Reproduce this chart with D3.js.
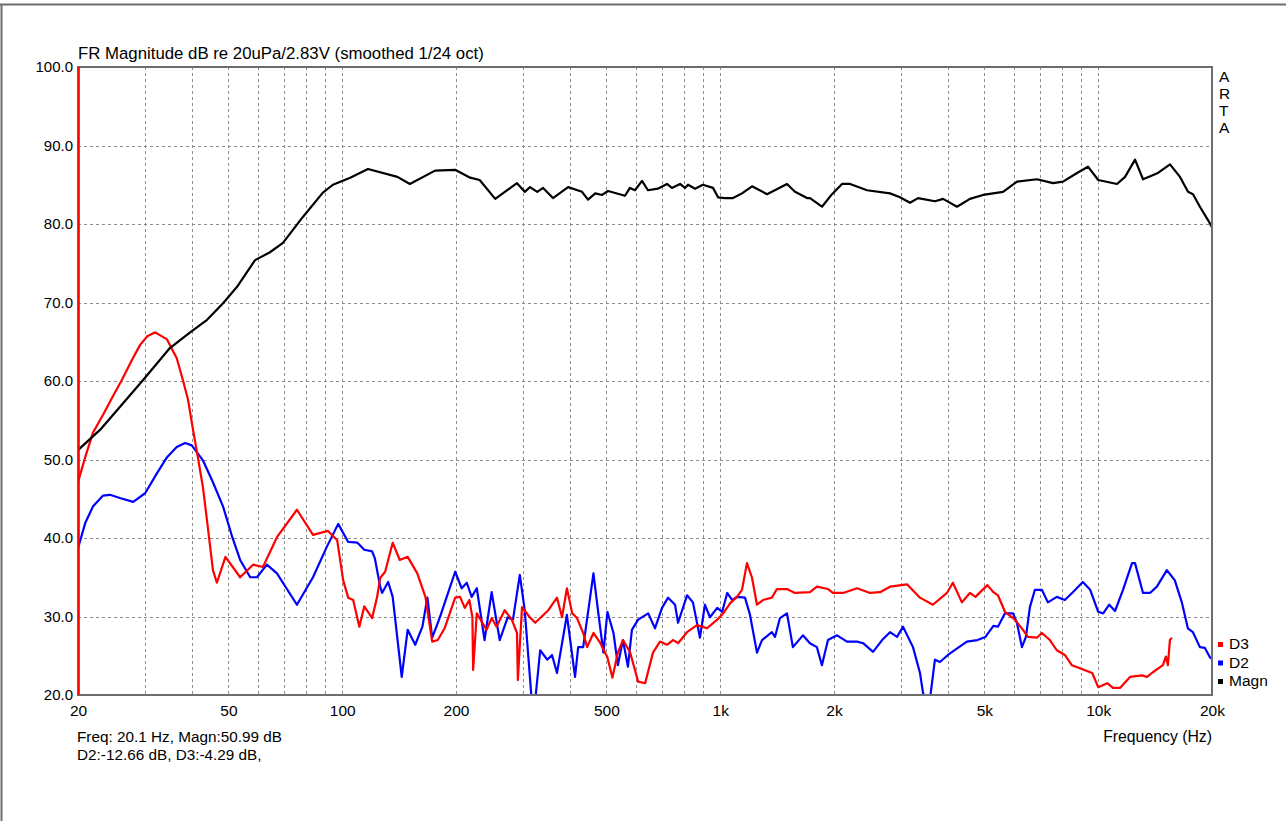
<!DOCTYPE html>
<html>
<head>
<meta charset="utf-8">
<script src="https://cdn.jsdelivr.net/npm/d3@7"></script>
<style>
  body { margin: 0; background: #fff; }
  svg text { font-family: "Liberation Sans", Arial, sans-serif; fill: #000; }
</style>
</head>
<body>
<div id="chart"></div>
<script>
// values: [frequency Hz, dB]
var magn = [[20,51.2],[22.9,53.8],[29.7,60.1],[35,64.2],[39.6,66.2],[43.9,67.8],[48.4,69.9],[52.7,72],
  [58.8,75.4],[64.4,76.4],[69.7,77.6],[78.7,80.9],[88.9,84],[94.5,85],[105,85.9],[117,87],[140,86],
  [151,85.1],[176,86.8],[199,86.9],[218,85.9],[231,85.6],[254,83.2],[290,85.2],[304,84.1],[314,84.7],
  [328,84.1],[340,84.6],[361,83.3],[396,84.7],[431,84.1],[447,83.1],[467,83.9],[487,83.7],[505,84.2],
  [560,83.6],[577,84.6],[595,84.3],[621,85.5],[644,84.3],[684,84.5],[723,85.1],[745,84.6],[783,85.1],
  [807,84.6],[822,85],[858,84.5],[900,85],[957,84.6],[987,83.4],[1029,83.3],[1081,83.3],[1142,83.9],
  [1214,84.8],[1330,83.8],[1502,85.1],[1577,84.1],[1697,83.3],[1728,83.3],[1859,82.2],[1976,83.8],
  [2100,85.1],[2206,85.1],[2446,84.3],[2814,83.9],[2990,83.4],[3177,82.7],[3337,83.3],[3700,82.9],
  [3887,83.2],[4231,82.2],[4578,83.2],[4958,83.7],[5600,84.1],[6099,85.4],[6887,85.7],[7593,85.2],
  [8071,85.4],[8789,86.5],[9397,87.3],[10000,85.6],[11216,85.1],[11776,86],[12514,88.2],[13138,85.7],
  [14392,86.5],[15486,87.6],[16458,86],[17280,84.1],[17814,83.8],[18580,82.2],[19518,80.5],[20000,79.6]];

var d2 = [[20,38.7],[20.9,41.9],[21.9,44],[23.3,45.4],[24.3,45.5],[25.8,45.1],[28,44.6],[30.1,45.7],
  [32.4,48.3],[34.4,50.3],[36.5,51.6],[38.4,52.1],[40,51.8],[42.8,49.9],[45.5,47.1],[48.4,44],[51.2,40.1],
  [53.7,37.2],[57.1,35],[59.5,35],[63.2,36.6],[67.2,35.5],[75.9,31.5],[83.7,35],[91.1,38.9],[97.6,41.8],
  [103.7,39.5],[109.7,39.4],[114.4,38.5],[120,38.3],[122,37.4],[126,33.8],[127.5,33],[132.3,34.4],
  [136,32.5],[143.7,22.3],[149,28.3],[156,26.4],[163,28.7],[168,32.4],[173,27.3],[181,29.8],[189,32.5],
  [199,35.7],[207,33.6],[213.6,34.3],[220,32.5],[227,33.6],[238,27],[248.5,33.1],[261,27],[274,29.9],
  [283,29.6],[295,35.3],[304,30.8],[317,19.5],[324,19.3],[334,25.7],[348.6,24.5],[359,25.1],[370,22.8],
  [393,30.2],[413,22.3],[421,26.1],[434,26.1],[462,35.5],[476,30.4],[491,25.4],[503,30.6],[522,27.9],
  [536,23.8],[553,27],[570,23.6],[584,28.3],[606.5,29.6],[645,30.4],[672,28.5],[701.5,31.1],[728,32.4],
  [759.5,31.5],[773.5,29.2],[817,32.7],[847,31.8],[884,27.3],[911,31.5],[939.5,29.9],[982,31.1],
  [1012,30.6],[1043.6,33],[1076,32.1],[1107.5,32.5],[1163,32.4],[1199,30.2],[1251,25.4],[1290,27],
  [1370,28],[1396,27.4],[1439,29.8],[1502,30.4],[1557,26.1],[1655,27.6],[1727,26.6],[1802,26.1],
  [1858,23.8],[1928,27],[2037,27.6],[2165,26.8],[2302,26.8],[2388,26.6],[2537,25.5],[2681,27],[2813,28],
  [2936,27.4],[3045,28.7],[3236,26.1],[3377,22.8],[3439,20.3],[3503,19],[3589,19.5],[3699,24.5],
  [3813,24.2],[4004,25.1],[4254,26],[4494,26.8],[4791,27],[5030,27.4],[5282,28.8],[5429,28.7],
  [5666,30.4],[5950,30.4],[6094,29.2],[6283,26.1],[6438,27.4],[6597,31.2],[6800,33.4],[7096,33.4],
  [7361,31.8],[7771,32.5],[8160,32.1],[8567,33.1],[9105,34.4],[9524,33.4],[10000,30.6],[10309,30.4],
  [10695,31.5],[11078,30.7],[11631,33.4],[12286,36.8],[12513,36.8],[13139,33],[13710,33],[14296,33.8],
  [15195,35.9],[15947,34.6],[16642,31.8],[17262,28.5],[17804,28],[18580,26.1],[19154,26],[19747,24.8],
  [20000,24.6]];

var d3curve = [[20,47.1],[20.9,50.3],[21.9,53.4],[23.3,55.7],[24.7,58],[26.1,60.1],[27.8,62.7],
  [29.2,64.6],[30.5,65.7],[32,66.2],[34.4,65.3],[36.5,62.9],[37.9,60.1],[39.1,57.6],[40.2,54.1],
  [41.5,50.3],[42.8,46.5],[44.1,41.4],[45.5,35.9],[46.6,34.3],[49.1,37.6],[53.7,35],[58.1,36.6],
  [61.7,36.3],[67.2,40.1],[75.9,43.6],[83.7,40.4],[91.7,40.9],[97,39.7],[100.6,34.6],[103.7,32.4],
  [106.9,32.1],[111,28.7],[114.4,31.3],[120,29.8],[123.7,32.5],[126,34.9],[129.9,35.7],[136,39.4],
  [142,37.2],[149,37.6],[158,35.5],[166,32.5],[173,26.8],[179,27],[186.6,28.5],[199,32.4],[205,32.5],
  [211,31.1],[217,32.1],[221,29.9],[222,23.2],[227,30.4],[241,28.3],[248.5,29.8],[256,28.7],[269,30.8],
  [281,29.6],[290,27.9],[291.5,21.9],[299,31.2],[313.5,29.9],[324,29.2],[334,29.8],[351,30.8],
  [370,32.4],[381.6,29.9],[393,33.6],[406,30.4],[418,29.8],[434,27.9],[444.6,26.1],[462,27.9],
  [482,26.6],[503,24.8],[518.6,22.2],[536,25.4],[553,27],[577,25.5],[606.5,21.7],[633,21.5],[664,25.4],
  [693,26.8],[723,26.4],[750,27],[773.5,26.6],[817,28],[868,28.9],[922.6,28.5],[982,29.6],[1018.5,30.4],
  [1063,31.7],[1107.5,32.5],[1142,33.4],[1177,36.8],[1213,35],[1251,31.5],[1297.6,32.1],[1370,32.4],
  [1413,33.5],[1502,33.5],[1576,33],[1727,33.1],[1802,33.8],[1928,33.5],[1988,33],[2113,33],[2302,33.6],
  [2491,33],[2648,33.1],[2813,33.8],[3120,34.1],[3377,32.4],[3653,31.5],[3979,33],[4126,34.3],[4359,31.8],
  [4576,33],[4733,32.5],[5092,34],[5282,33.1],[5429,32.7],[5666,30.6],[6021,29.6],[6322,28.3],[6517,27.4],
  [6883,27.3],[7096,27.9],[7450,27],[7771,25.7],[8160,25.1],[8514,23.8],[8940,23.4],[9641,22.8],
  [10000,21],[10563,21.5],[10943,20.9],[11420,20.9],[12137,22.3],[13059,22.5],[13462,22.3],[13952,22.9],
  [14829,23.8],[15100,24.9],[15288,23.8],[15477,27],[15668,27.3]];

var gridFreqs = [30,40,50,60,70,80,90,100,200,300,400,500,600,700,800,900,1000,2000,3000,4000,5000,6000,7000,8000,9000,10000];
var gridDb = [30,40,50,60,70,80,90];
var freqTicks = [20,50,100,200,500,1000,2000,5000,10000,20000];
var freqLabels = ["20","50","100","200","500","1k","2k","5k","10k","20k"];
var dbTicks = [20,30,40,50,60,70,80,90,100];
var cursorFreq = 20.1;

var legend = [{name: "D3", color: "#ff0000"}, {name: "D2", color: "#0000ff"}, {name: "Magn", color: "#000000"}];

var W = 1286, H = 821;
var margin = {top: 67, right: 74, bottom: 126, left: 78},
    width = W - margin.left - margin.right,
    height = H - margin.top - margin.bottom;

var svg = d3.select("#chart").append("svg")
    .attr("width", W)
    .attr("height", H);

// window border
svg.append("line").attr("x1", 0).attr("x2", W).attr("y1", 4.5).attr("y2", 4.5)
    .attr("stroke", "#6e6e6e").attr("stroke-width", 2);
svg.append("line").attr("x1", 1.5).attr("x2", 1.5).attr("y1", 4).attr("y2", H)
    .attr("stroke", "#6e6e6e").attr("stroke-width", 2);

var g = svg.append("g")
    .attr("transform", "translate(" + margin.left + "," + margin.top + ")");

var x = d3.scaleLog().domain([20, 20000]).range([0, width]);
var y = d3.scaleLinear().domain([20, 100]).range([height, 0]);

g.append("clipPath").attr("id", "plotclip")
  .append("rect").attr("width", width).attr("height", height);

// grid
g.selectAll(".vgrid").data(gridFreqs).enter().append("line")
    .attr("x1", d => Math.round(x(d)) + 0.5).attr("x2", d => Math.round(x(d)) + 0.5)
    .attr("y1", 0).attr("y2", height)
    .attr("stroke", "#8c8c8c").attr("stroke-dasharray", "3,3");
g.selectAll(".hgrid").data(gridDb).enter().append("line")
    .attr("x1", 0).attr("x2", width)
    .attr("y1", d => Math.round(y(d)) + 0.5).attr("y2", d => Math.round(y(d)) + 0.5)
    .attr("stroke", "#8c8c8c").attr("stroke-dasharray", "3,3");

// axes (labels only)
var xAxis = g.append("g")
    .attr("transform", "translate(0," + height + ")")
    .call(d3.axisBottom(x).tickValues(freqTicks)
      .tickFormat((d, i) => freqLabels[i]).tickSize(0).tickPadding(10));
xAxis.select(".domain").remove();
xAxis.selectAll("text").attr("font-size", 15.5).attr("font-family", "Liberation Sans, Arial, sans-serif");

var yAxis = g.append("g")
    .call(d3.axisLeft(y).tickValues(dbTicks)
      .tickFormat(d3.format(".1f")).tickSize(0).tickPadding(5));
yAxis.select(".domain").remove();
yAxis.selectAll("text").attr("font-size", 15).attr("font-family", "Liberation Sans, Arial, sans-serif");

// curves
var line = d3.line()
    .x(d => x(d[0]))
    .y(d => y(d[1]));

var plot = g.append("g").attr("clip-path", "url(#plotclip)");
plot.append("path").datum(d2)
    .attr("fill", "none").attr("stroke", "#0000ff").attr("stroke-width", 2.2)
    .attr("stroke-linejoin", "round").attr("d", line);
plot.append("path").datum(d3curve)
    .attr("fill", "none").attr("stroke", "#ff0000").attr("stroke-width", 2.2)
    .attr("stroke-linejoin", "round").attr("d", line);
plot.append("path").datum(magn)
    .attr("fill", "none").attr("stroke", "#000000").attr("stroke-width", 2.2)
    .attr("stroke-linejoin", "round").attr("d", line);

// frame
g.append("rect").attr("width", width).attr("height", height)
    .attr("fill", "none").attr("stroke", "#6e6e6e").attr("stroke-width", 2);

// cursor
g.append("line")
    .attr("x1", x(cursorFreq)).attr("x2", x(cursorFreq))
    .attr("y1", 0).attr("y2", height)
    .attr("stroke", "#ff0000").attr("stroke-width", 2);

// title
g.append("text").attr("x", 0).attr("y", -8)
    .attr("font-size", 16.8)
    .text("FR Magnitude dB re 20uPa/2.83V (smoothed 1/24 oct)");

// ARTA vertical
g.selectAll(".arta").data(["A", "R", "T", "A"]).enter().append("text")
    .attr("x", width + 7).attr("y", (d, i) => 15 + i * 17)
    .attr("font-size", 15.5)
    .text(d => d);

// x title
g.append("text").attr("x", width).attr("y", height + 47)
    .attr("text-anchor", "end").attr("font-size", 15.8)
    .text("Frequency (Hz)");

// cursor readout
g.append("text").attr("x", -1).attr("y", height + 47).attr("font-size", 15.3)
    .text("Freq: 20.1 Hz, Magn:50.99 dB");
g.append("text").attr("x", -1).attr("y", height + 65).attr("font-size", 15.3)
    .text("D2:-12.66 dB, D3:-4.29 dB,");

// legend
var leg = g.selectAll(".leg").data(legend).enter().append("g")
    .attr("transform", (d, i) => "translate(" + (width + 6) + "," + (height - 46 + i * 18.5) + ")");
leg.append("rect").attr("x", 0).attr("y", -7).attr("width", 5).attr("height", 5)
    .attr("fill", d => d.color);
leg.append("text").attr("x", 11).attr("y", 0).attr("font-size", 15.5)
    .text(d => d.name);
</script>
</body>
</html>
